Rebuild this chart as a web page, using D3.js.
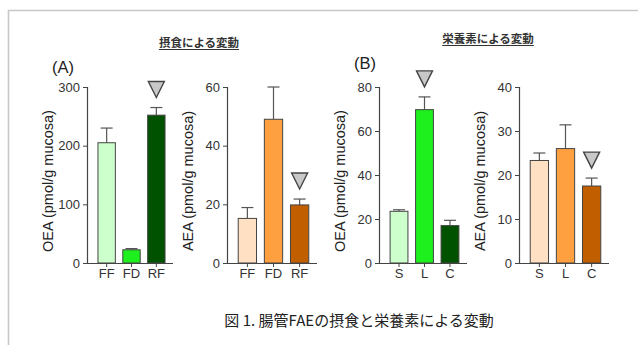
<!DOCTYPE html>
<html>
<head>
<meta charset="utf-8">
<script src="https://cdn.jsdelivr.net/npm/d3@7"></script>
<style>
  body { margin: 0; background: #fff; }
  svg { display: block; font-family: "Liberation Sans", Arial, sans-serif; }
</style>
</head>
<body>
<svg id="chart" width="638" height="345"></svg>
<script>
const svg = d3.select('#chart');

// data
const feedCats = ["FF", "FD", "RF"];
const nutCats = ["S", "L", "C"];
const greens = ["#ccffcc", "#1ef01e", "#005200"];
const oranges = ["#ffe0c2", "#ffa040", "#c05e00"];

const oeaFeed = [205, 22.5, 252];
const oeaFeedErr = [230, 24.5, 265];
const aeaFeed = [15.2, 49, 19.8];
const aeaFeedErr = [18.9, 60, 21.8];
const oeaNut = [23.5, 69.7, 17.0];
const oeaNutErr = [24.2, 75.5, 19.4];
const aeaNut = [23.3, 26.0, 17.5];
const aeaNutErr = [25.0, 31.4, 19.3];

const oeaFeedTicks = [0, 100, 200, 300];
const aeaFeedTicks = [0, 20, 40, 60];
const oeaNutTicks = [0, 20, 40, 60, 80];
const aeaNutTicks = [0, 10, 20, 30, 40];

// frame (only top and left edges visible)
svg.append('path')
  .attr('d', 'M8.5,345 V10.5 H638')
  .attr('fill', 'none')
  .attr('stroke', '#c8c8c8')
  .attr('stroke-width', 1.6);

const panels = [
  { x0: 87, x1: 173, cats: feedCats, vals: oeaFeed, errs: oeaFeedErr, max: 300, ticks: oeaFeedTicks, colors: greens, label: 'OEA (pmol/g mucosa)', mark: 2 },
  { x0: 227, x1: 317, cats: feedCats, vals: aeaFeed, errs: aeaFeedErr, max: 60, ticks: aeaFeedTicks, colors: oranges, label: 'AEA (pmol/g mucosa)', mark: 2 },
  { x0: 379, x1: 467, cats: nutCats, vals: oeaNut, errs: oeaNutErr, max: 80, ticks: oeaNutTicks, colors: greens, label: 'OEA (pmol/g mucosa)', mark: 1 },
  { x0: 519, x1: 609, cats: nutCats, vals: aeaNut, errs: aeaNutErr, max: 40, ticks: aeaNutTicks, colors: oranges, label: 'AEA (pmol/g mucosa)', mark: 2 }
];

const yTop = 87, yBot = 263;

panels.forEach(p => {
  const g = svg.append('g');
  const y = d3.scaleLinear().domain([0, p.max]).range([yBot, yTop]);
  const x = d3.scaleBand().domain(p.cats).range([p.x0 + 6, p.x1 - 3]).paddingInner(0.3).paddingOuter(0.2);

  // bars
  p.cats.forEach((c, i) => {
    const bx = x(c), bw = x.bandwidth(), cx = bx + bw / 2;
    // error bar (upper only)
    g.append('line')
      .attr('x1', cx).attr('x2', cx)
      .attr('y1', y(p.vals[i])).attr('y2', y(p.errs[i]))
      .attr('stroke', '#555').attr('stroke-width', 1.2);
    g.append('line')
      .attr('x1', cx - 6).attr('x2', cx + 6)
      .attr('y1', y(p.errs[i])).attr('y2', y(p.errs[i]))
      .attr('stroke', '#555').attr('stroke-width', 1.2);
    g.append('rect')
      .attr('x', bx).attr('y', y(p.vals[i]))
      .attr('width', bw).attr('height', yBot - y(p.vals[i]))
      .attr('fill', p.colors[i])
      .attr('stroke', '#444').attr('stroke-width', 1);
  });

  // marker triangle above marked bar
  const mc = p.cats[p.mark];
  const mx = x(mc) + x.bandwidth() / 2;
  const my = y(p.errs[p.mark]) - 10;
  g.append('path')
    .attr('d', `M${mx - 8},${my - 16} L${mx + 8},${my - 16} L${mx},${my} Z`)
    .attr('fill', '#c8c8c8')
    .attr('stroke', '#444')
    .attr('stroke-width', 1.4);

  // y axis
  const ya = g.append('g')
    .attr('transform', `translate(${p.x0},0)`)
    .call(d3.axisLeft(y).tickValues(p.ticks).tickSize(4).tickPadding(3));
  ya.select('.domain').attr('stroke', '#444').attr('stroke-width', 1.2);
  ya.selectAll('.tick line').attr('stroke', '#444');
  ya.selectAll('.tick text').attr('font-size', 13).attr('fill', '#333');

  // x axis
  const xa = g.append('g')
    .attr('transform', `translate(0,${yBot})`)
    .call(d3.axisBottom(x).tickSize(4).tickPadding(2));
  xa.select('.domain').attr('d', `M${p.x0},0.5H${p.x1}`).attr('stroke', '#444').attr('stroke-width', 1.2);
  xa.selectAll('.tick line').attr('stroke', '#444');
  xa.selectAll('.tick text').attr('font-size', 13).attr('fill', '#333');

  // y label
  g.append('text')
    .attr('transform', `translate(${p.x0 - 34},${(yTop + yBot) / 2 + 6}) rotate(-90)`)
    .attr('text-anchor', 'middle')
    .attr('font-size', 14.5)
    .attr('fill', '#222')
    .text(p.label);
});

// panel letters
svg.append('text').attr('x', 52).attr('y', 73).attr('font-size', 16.5).attr('fill', '#222').text('(A)');
svg.append('text').attr('x', 354).attr('y', 69).attr('font-size', 16.5).attr('fill', '#222').text('(B)');

// section headings, underlined
const heads = [
  { text: '摂食による変動', x: 199, y: 47 },
  { text: '栄養素による変動', x: 488, y: 43 }
];
heads.forEach(h => {
  const t = svg.append('text')
    .attr('x', h.x).attr('y', h.y)
    .attr('text-anchor', 'middle')
    .attr('font-family', '"Noto Sans CJK JP", sans-serif')
    .attr('font-size', 11.5)
    .attr('font-weight', 'bold')
    .attr('fill', '#333')
    .text(h.text);
  const w = t.node().getComputedTextLength();
  svg.append('line')
    .attr('x1', h.x - w / 2).attr('x2', h.x + w / 2)
    .attr('y1', h.y + 2.5).attr('y2', h.y + 2.5)
    .attr('stroke', '#333').attr('stroke-width', 1);
});

// caption
svg.append('text')
  .attr('x', 359).attr('y', 326)
  .attr('text-anchor', 'middle')
  .attr('font-family', '"Noto Sans CJK JP", sans-serif')
  .attr('font-size', 15)
  .attr('fill', '#222')
  .text('図 1. 腸管FAEの摂食と栄養素による変動');
</script>
</body>
</html>
